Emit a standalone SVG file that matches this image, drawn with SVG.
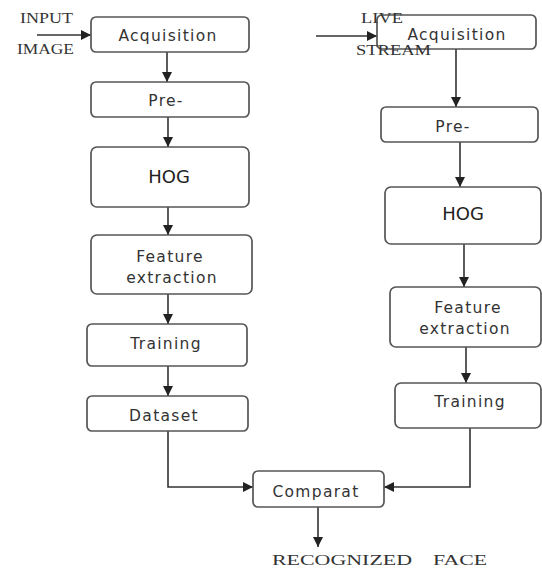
<svg xmlns="http://www.w3.org/2000/svg" width="542" height="568" viewBox="0 0 542 568">
<defs>
<marker id="ah" viewBox="0 0 10 10" refX="10" refY="5" markerWidth="10" markerHeight="10" markerUnits="userSpaceOnUse" orient="auto">
<path d="M0,0 L10,5 L0,10 Z" fill="#222"/>
</marker>
<style>
.box{fill:#fff;stroke:#555;stroke-width:1.7}
.lbl{font-family:"DejaVu Sans",Verdana,sans-serif;font-size:15.5px;fill:#333;text-anchor:middle;letter-spacing:1.3px}
.hog{font-family:"DejaVu Sans",Verdana,sans-serif;font-size:18px;fill:#222;text-anchor:middle}
.ser{font-family:"Liberation Serif","Times New Roman",serif;font-size:15px;fill:#333}
.c{fill:none;stroke:#333;stroke-width:1.6;marker-end:url(#ah)}
</style>
</defs>
<rect width="542" height="568" fill="#fff"/>
<g id="connectors">
<path class="c" d="M37,35 L91,35"/>
<path class="c" d="M316,36 L377,36"/>
<path class="c" d="M167,52 L167,82"/>
<path class="c" d="M168,117 L168,147"/>
<path class="c" d="M168,207 L168,235"/>
<path class="c" d="M168,294 L168,324"/>
<path class="c" d="M168,366 L168,396"/>
<path class="c" d="M456,49 L456,107"/>
<path class="c" d="M460,142 L460,187"/>
<path class="c" d="M464,244 L464,287"/>
<path class="c" d="M466,347 L466,383"/>
<path class="c" d="M168,431 L168,487 L253,487"/>
<path class="c" d="M470,428 L470,487 L384,487"/>
<path class="c" d="M318,507 L318,547"/>
</g>
<g id="input-label">
<text class="ser" x="20" y="23" textLength="53" lengthAdjust="spacingAndGlyphs">INPUT</text>
<text class="ser" x="17" y="54" textLength="57" lengthAdjust="spacingAndGlyphs">IMAGE</text>
</g>
<g id="l-acq"><rect class="box" x="91" y="17" width="158" height="35" rx="5"/><text class="lbl" x="168" y="41">Acquisition</text></g>
<g id="l-pre"><rect class="box" x="91" y="82" width="158" height="35" rx="5"/><text class="lbl" x="166" y="106">Pre-</text></g>
<g id="l-hog"><rect class="box" x="91" y="147" width="158" height="60" rx="6"/><text class="hog" x="169" y="183">HOG</text></g>
<g id="l-feat"><rect class="box" x="91" y="235" width="161" height="59" rx="6"/><text class="lbl" x="170" y="262">Feature</text><text class="lbl" x="172" y="283">extraction</text></g>
<g id="l-train"><rect class="box" x="87" y="324" width="160" height="42" rx="5"/><text class="lbl" x="166" y="349">Training</text></g>
<g id="l-data"><rect class="box" x="87" y="396" width="161" height="35" rx="5"/><text class="lbl" x="164" y="421">Dataset</text></g>
<g id="r-acq"><rect class="box" x="377" y="15" width="159" height="34" rx="5"/><text class="lbl" x="457" y="40">Acquisition</text></g>
<g id="live-label">
<text class="ser" x="361" y="23" textLength="42" lengthAdjust="spacingAndGlyphs">LIVE</text>
<text class="ser" x="356" y="55" textLength="75" lengthAdjust="spacingAndGlyphs">STREAM</text>
</g>
<g id="r-pre"><rect class="box" x="381" y="107" width="157" height="35" rx="5"/><text class="lbl" x="453" y="132">Pre-</text></g>
<g id="r-hog"><rect class="box" x="385" y="187" width="156" height="57" rx="6"/><text class="hog" x="463" y="220">HOG</text></g>
<g id="r-feat"><rect class="box" x="390" y="287" width="151" height="60" rx="6"/><text class="lbl" x="468" y="313">Feature</text><text class="lbl" x="465" y="334">extraction</text></g>
<g id="r-train"><rect class="box" x="395" y="383" width="146" height="45" rx="6"/><text class="lbl" x="470" y="407">Training</text></g>
<g id="comparat"><rect class="box" x="253" y="471" width="131" height="36" rx="5"/><text class="lbl" x="316" y="497">Comparat</text></g>
<g id="output-label">
<text class="ser" x="272" y="565" font-size="17" textLength="140" lengthAdjust="spacingAndGlyphs">RECOGNIZED</text>
<text class="ser" x="433" y="565" font-size="17" textLength="54" lengthAdjust="spacingAndGlyphs">FACE</text>
</g>
</svg>
